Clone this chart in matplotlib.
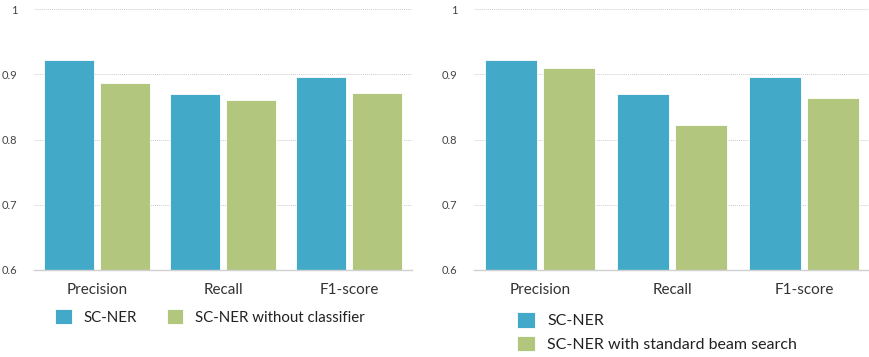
import matplotlib
matplotlib.use("Agg")
import matplotlib.pyplot as plt
import numpy as np

plt.rcParams["font.family"] = ["Lato", "DejaVu Sans"]

categories = ["Precision", "Recall", "F1-score"]
sc_ner = [0.922, 0.870, 0.896]
without_classifier = [0.886, 0.860, 0.872]
standard_beam = [0.910, 0.822, 0.864]
y_ticks = [0.6, 0.7, 0.8, 0.9, 1.0]
y_labels = ["0.6", "0.7", "0.8", "0.9", "1"]

BLUE = "#42AAC8"
GREEN = "#B3C67D"

W, H = 870, 357
fig = plt.figure(figsize=(W / 100, H / 100), dpi=100)


def draw_panel(rect, other, other_name, legend_cols, legend_anchor, legend_size, spacing):
    ax = fig.add_axes(rect)
    x = np.arange(len(categories))
    ax.bar(x - 0.22, [v - 0.6 for v in sc_ner], 0.4, bottom=0.6, color=BLUE,
           edgecolor="white", linewidth=0.6, label="SC-NER", zorder=3)
    ax.bar(x + 0.22, [v - 0.6 for v in other], 0.4, bottom=0.6, color=GREEN,
           edgecolor="white", linewidth=0.6, label=other_name, zorder=3)
    ax.set_xlim(-0.5, 2.5)
    ax.set_ylim(0.6, 1.0)
    ax.set_yticks(y_ticks)
    ax.set_yticklabels(y_labels, fontsize=8, color="#444444")
    ax.set_xticks(x)
    ax.set_xticklabels(categories, fontsize=11, color="#333333")
    ax.tick_params(axis="both", length=0)
    ax.tick_params(axis="x", pad=9)
    ax.tick_params(axis="y", pad=12)
    ax.grid(axis="y", linestyle=(0, (1, 1)), color="#cccccc", linewidth=0.7, zorder=0)
    for s in ["top", "right", "left"]:
        ax.spines[s].set_visible(False)
    ax.spines["bottom"].set_color("#d0d0d0")
    ax.spines["bottom"].set_linewidth(1.0)
    ax.spines["bottom"].set_zorder(4)
    leg = fig.legend(*ax.get_legend_handles_labels(), loc="center left",
                     bbox_to_anchor=legend_anchor, ncol=legend_cols, frameon=False,
                     fontsize=legend_size, handlelength=1.1, handleheight=1.1,
                     handletextpad=0.8, columnspacing=2.0, labelspacing=spacing,
                     borderpad=0, borderaxespad=0)
    for t in leg.get_texts():
        t.set_color("#222222")
    return ax


draw_panel([34 / W, 87 / H, 378 / W, 261 / H], without_classifier,
           "SC-NER without classifier", 2, (55 / W, 1 - 317 / H), 10.8, 0.3)
draw_panel([474 / W, 87 / H, 396 / W, 261 / H], standard_beam,
           "SC-NER with standard beam search", 1, (517 / W, 1 - 332 / H), 11.5, 0.45)

fig.savefig("out.png", dpi=100)
